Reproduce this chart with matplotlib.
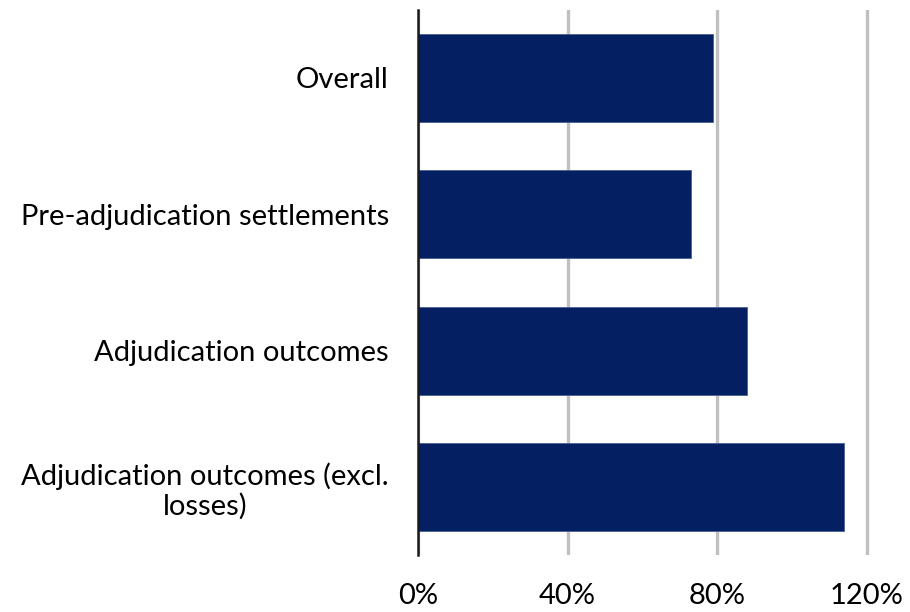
import matplotlib.pyplot as plt
from matplotlib.ticker import FuncFormatter

# Ratio by case outcome, top to bottom
categories = ["Overall", "Pre-adjudication settlements", "Adjudication outcomes",
              "Adjudication outcomes (excl.\nlosses)"]
values = [79, 73, 88, 114]
xticks = [0, 40, 80, 120]

plt.rcParams['font.family'] = ['Lato', 'DejaVu Sans']

fig = plt.figure(figsize=(9.1, 6.12), dpi=100)
ax = fig.add_axes([0.4593, 0.093, 0.5303, 0.891])

ypos = list(range(len(categories)))
ax.barh(ypos, values, height=0.646, color="#041f62", edgecolor="#4a5f95",
        linewidth=0.6, zorder=3)

ax.set_ylim(len(categories) - 0.5, -0.5)
ax.set_xlim(0, 129)
ax.set_yticks(ypos)
ax.set_yticklabels(categories, fontsize=21, linespacing=1.15)
ax.set_xticks(xticks)
ax.xaxis.set_major_formatter(FuncFormatter(lambda v, p: f"{v:.0f}%"))
ax.tick_params(axis='x', labelsize=21, length=0, pad=20)
ax.tick_params(axis='y', length=0, pad=21)
for lab in ax.get_yticklabels():
    lab.set_horizontalalignment('right')
    lab.set_multialignment('center')

ax.grid(axis='x', color="#c0c0c0", linewidth=2.4, zorder=0)
for s in ["top", "right", "bottom"]:
    ax.spines[s].set_visible(False)
ax.spines["left"].set_linewidth(1.8)
ax.spines["left"].set_color("#1a1a1a")
ax.spines["left"].set_zorder(4)

fig.savefig("out.png", dpi=100)
